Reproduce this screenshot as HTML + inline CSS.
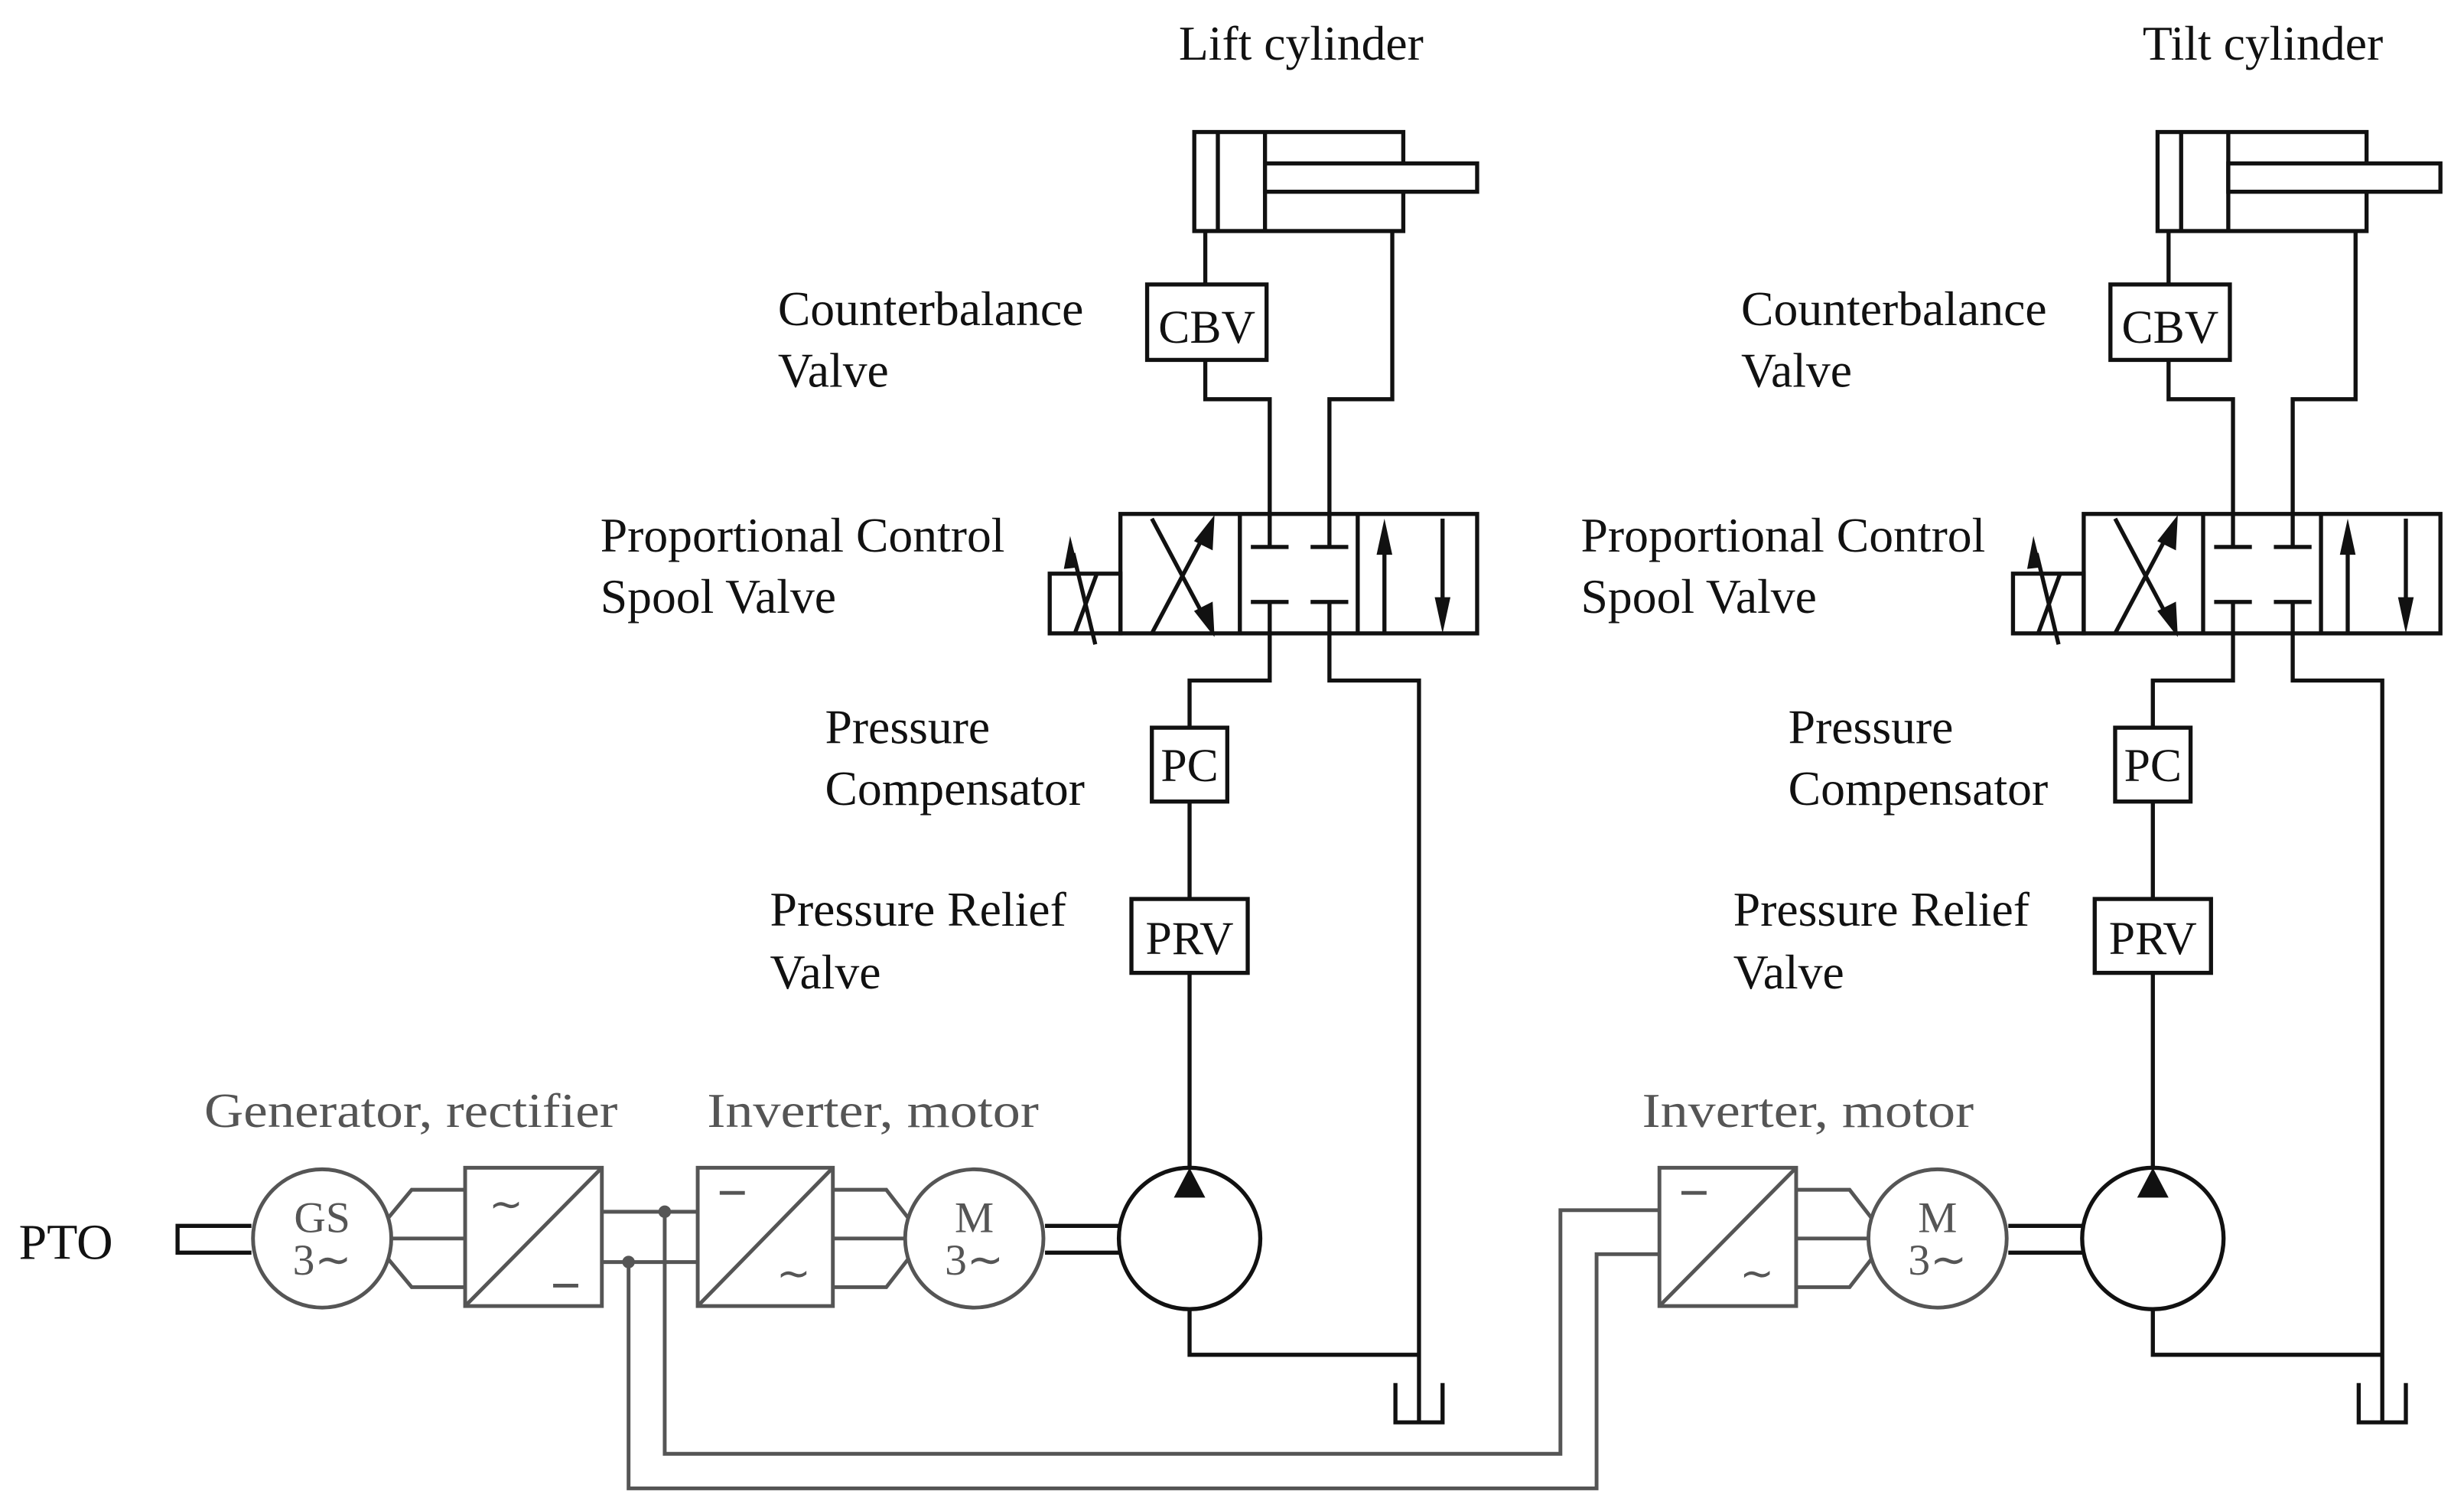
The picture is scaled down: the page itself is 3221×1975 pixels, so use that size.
<!DOCTYPE html>
<html><head><meta charset="utf-8"><style>html,body{margin:0;padding:0;background:#fff}svg{display:block}</style></head><body>
<svg width="3221" height="1975" viewBox="0 0 1568 961.4" preserveAspectRatio="none" xmlns="http://www.w3.org/2000/svg">
<defs>
<g id="hyd" fill="none" stroke="#111" stroke-width="2.6">
  <rect x="760" y="84" width="133" height="63"/>
  <line x1="775" y1="84" x2="775" y2="147"/>
  <line x1="805" y1="84" x2="805" y2="147"/>
  <rect x="805" y="104" width="135" height="18" fill="#fff"/>
  <polyline points="767,147 767,181"/>
  <rect x="730" y="181" width="76" height="48"/>
  <polyline points="767,229 767,254 808,254 808,327"/>
  <polyline points="886,147 886,254 846,254 846,327"/>
  <rect x="713" y="327" width="227" height="76"/>
  <line x1="789" y1="327" x2="789" y2="403"/>
  <line x1="864" y1="327" x2="864" y2="403"/>
  <rect x="668" y="365" width="45" height="38"/>
  <line x1="684" y1="403" x2="698" y2="365"/>
  <line x1="697" y1="410" x2="683" y2="352"/>
  <polygon points="681,341 677,362 686,361" fill="#111" stroke="none"/>
  <line x1="733" y1="330" x2="766" y2="392"/>
  <polygon points="772,403 761,389 771,384" fill="#111" stroke="#111" stroke-width="1.5"/>
  <line x1="733" y1="403" x2="766" y2="341"/>
  <polygon points="772,330 761,344 771,349" fill="#111" stroke="#111" stroke-width="1.5"/>
  <line x1="808" y1="327" x2="808" y2="348"/><line x1="796" y1="348" x2="820" y2="348"/>
  <line x1="846" y1="327" x2="846" y2="348"/><line x1="834" y1="348" x2="858" y2="348"/>
  <line x1="796" y1="383" x2="820" y2="383"/><line x1="834" y1="383" x2="858" y2="383"/>
  <line x1="881" y1="403" x2="881" y2="345"/>
  <polygon points="881,330 876,353 886,353" fill="#111" stroke="none"/>
  <line x1="918" y1="330" x2="918" y2="388"/>
  <polygon points="918,403 913,380 923,380" fill="#111" stroke="none"/>
  <polyline points="808,383 808,433 757,433 757,463"/>
  <polyline points="846,383 846,433 903,433 903,905"/>
  <rect x="733" y="463" width="48" height="47"/>
  <line x1="757" y1="510" x2="757" y2="572"/>
  <rect x="720" y="572" width="74" height="47"/>
  <line x1="757" y1="619" x2="757" y2="743"/>
  <circle cx="757" cy="788" r="45"/>
  <polygon points="757,743 747,762 767,762" fill="#111" stroke="none"/>
  <polyline points="757,833 757,862 903,862"/>
  <polyline points="888,880 888,905 918,905 918,880"/>
</g>
</defs>
<use href="#hyd"/>
<use href="#hyd" transform="translate(613,0)"/>
<g font-family="Liberation Serif, serif" font-size="31" fill="#111">
<text x="828" y="38" text-anchor="middle">Lift cylinder</text>
<text x="1440" y="38" text-anchor="middle">Tilt cylinder</text>
<text x="768" y="218" text-anchor="middle" font-size="30">CBV</text>
<text x="1381" y="218" text-anchor="middle" font-size="30">CBV</text>
<text x="757" y="497" text-anchor="middle" font-size="30">PC</text>
<text x="1370" y="497" text-anchor="middle" font-size="30">PC</text>
<text x="757" y="607" text-anchor="middle" font-size="30">PRV</text>
<text x="1370" y="607" text-anchor="middle" font-size="30">PRV</text>
<text x="495" y="207">Counterbalance</text><text x="495" y="246">Valve</text>
<text x="1108" y="207">Counterbalance</text><text x="1108" y="246">Valve</text>
<text x="382" y="351">Proportional Control</text><text x="382" y="390">Spool Valve</text>
<text x="1006" y="351">Proportional Control</text><text x="1006" y="390">Spool Valve</text>
<text x="525" y="473">Pressure</text><text x="525" y="512">Compensator</text>
<text x="1138" y="473">Pressure</text><text x="1138" y="512">Compensator</text>
<text x="490" y="589">Pressure Relief</text><text x="490" y="629">Valve</text>
<text x="1103" y="589">Pressure Relief</text><text x="1103" y="629">Valve</text>
<text x="12" y="801" font-size="32">PTO</text>
</g>
<g fill="none" stroke="#111" stroke-width="2.6">
<polyline points="160,780 113,780 113,797 160,797"/>
<line x1="665" y1="780" x2="712" y2="780"/><line x1="665" y1="797" x2="712" y2="797"/>
<line x1="1278" y1="780" x2="1325" y2="780"/><line x1="1278" y1="797" x2="1325" y2="797"/>
</g>
<g fill="none" stroke="#555" stroke-width="2.4">
<circle cx="205" cy="788" r="44"/>
<line x1="249" y1="788" x2="296" y2="788"/>
<polyline points="247,775 262,757 296,757"/>
<polyline points="247,801 262,819 296,819"/>
<rect x="296" y="743" width="87" height="88"/>
<line x1="296" y1="831" x2="383" y2="743"/>
<line x1="383" y1="771" x2="444" y2="771"/>
<line x1="383" y1="803" x2="444" y2="803"/>
<rect x="444" y="743" width="86" height="88"/>
<line x1="444" y1="831" x2="530" y2="743"/>
<line x1="530" y1="788" x2="576" y2="788"/>
<polyline points="530,757 564,757 578,775"/>
<polyline points="530,819 564,819 578,801"/>
<circle cx="620" cy="788" r="44"/>
<polyline points="423,771 423,925 993,925 993,770 1056,770"/>
<polyline points="400,803 400,947 1016,947 1016,798 1056,798"/>
<rect x="1056" y="743" width="87" height="88"/>
<line x1="1056" y1="831" x2="1143" y2="743"/>
<line x1="1143" y1="788" x2="1189" y2="788"/>
<polyline points="1143,757 1177,757 1191,775"/>
<polyline points="1143,819 1177,819 1191,801"/>
<circle cx="1233" cy="788" r="44"/>
<line x1="352" y1="818" x2="368" y2="818"/>
<line x1="458" y1="759" x2="474" y2="759"/>
<line x1="1070" y1="759" x2="1086" y2="759"/>
</g>
<circle cx="423" cy="771" r="4" fill="#555"/>
<circle cx="400" cy="803" r="4" fill="#555"/>
<g font-family="Liberation Serif, serif" font-size="31" fill="#555">
<text x="130" y="717" textLength="263" lengthAdjust="spacingAndGlyphs">Generator, rectifier</text>
<text x="450" y="717" textLength="211" lengthAdjust="spacingAndGlyphs">Inverter, motor</text>
<text x="1045" y="717" textLength="211" lengthAdjust="spacingAndGlyphs">Inverter, motor</text>
<text x="205" y="784" text-anchor="middle" font-size="28">GS</text>
<text x="205" y="811" text-anchor="middle" font-size="28">3∼</text>
<text x="620" y="784" text-anchor="middle" font-size="28">M</text>
<text x="620" y="811" text-anchor="middle" font-size="28">3∼</text>
<text x="1233" y="784" text-anchor="middle" font-size="28">M</text>
<text x="1233" y="811" text-anchor="middle" font-size="28">3∼</text>
<text x="322" y="775" text-anchor="middle" font-size="26">∼</text>
<text x="505" y="819" text-anchor="middle" font-size="26">∼</text>
<text x="1118" y="819" text-anchor="middle" font-size="26">∼</text>
</g>
</svg>
</body></html>
